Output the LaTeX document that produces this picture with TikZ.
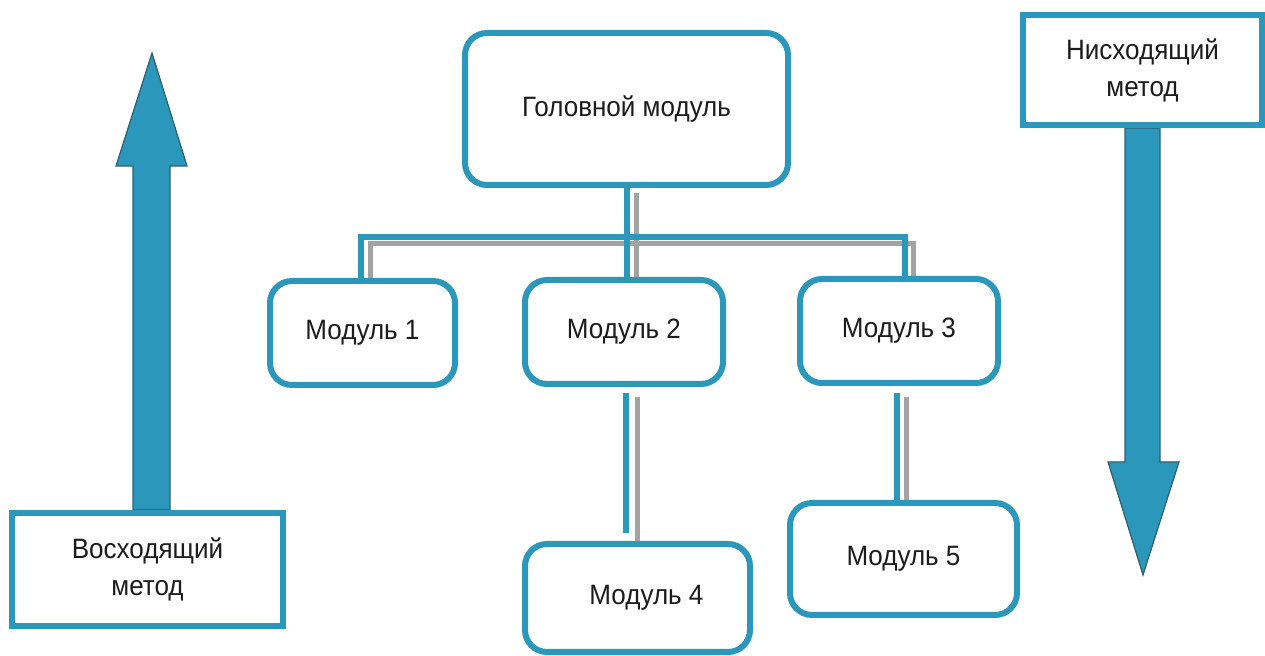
\documentclass[tikz,border=0pt]{standalone}
\usepackage{fontspec}
\setmainfont{Liberation Sans}
\newfontfamily\labelfont[FakeStretch=0.93]{Liberation Sans}
\definecolor{teal}{HTML}{2B97BA}
\definecolor{arrowedge}{HTML}{2F5F6E}
\definecolor{shade}{HTML}{A3A3A3}
\definecolor{ink}{HTML}{1C1C1C}
\tikzset{
  modbox/.style={draw=teal, line width=3pt, fill=white, rounded corners=11pt,
    inner sep=0pt, text=ink, font=\labelfont\fontsize{14}{18.5}\selectfont, align=center},
  methodbox/.style={draw=teal, line width=3pt, fill=white, inner sep=0pt,
    text=ink, font=\labelfont\fontsize{14}{18.5}\selectfont, align=center},
  bluelink/.style={draw=teal, line width=3pt},
  greylink/.style={draw=shade, line width=2.5pt},
  bigarrow/.style={fill=teal, draw=arrowedge, line width=0.6pt, line join=miter}
}
\begin{document}
\begin{tikzpicture}[x=0.5pt,y=-0.5pt]
\useasboundingbox (0,0) rectangle (1265,656);

% module hierarchy
\node[modbox, minimum width=161.5pt, minimum height=76pt] (head) at (626.5,109) {\raisebox{-1.5pt}{Головной модуль}};
\node[modbox, minimum width=92.5pt, minimum height=52pt] (m1) at (362.5,333) {\raisebox{-1.5pt}{Модуль 1}};
\node[modbox, minimum width=99pt, minimum height=52pt] (m2) at (624,332) {\raisebox{-1pt}{Модуль 2}};
\node[modbox, minimum width=99pt, minimum height=52pt] (m3) at (899,331) {\raisebox{-1.5pt}{Модуль 3}};
\node[modbox, minimum width=112.5pt, minimum height=54pt] (m4) at (637.5,598) {\hspace*{9pt}\raisebox{-3pt}{Модуль 4}};
\node[modbox, minimum width=113.5pt, minimum height=56pt] (m5) at (903.5,559) {\raisebox{-2pt}{Модуль 5}};

% method labels
\node[methodbox, minimum width=119.5pt, minimum height=55pt] (down) at (1142.5,70) {Нисходящий\\метод};
\node[methodbox, minimum width=135.5pt, minimum height=56.5pt] (up) at (147.5,569.5) {Восходящий\\метод};

% bus and drop points
\coordinate (busL) at (361,237);
\coordinate (busR) at (905,237);
\coordinate (gbusL) at (370,244);
\coordinate (gbusR) at (913,244);
\coordinate (gHead) at (636,193);
\coordinate (bM4a) at (626,393);
\coordinate (bM4b) at (626,533);
\coordinate (gM4) at (637,397);
\coordinate (bM5) at (897,393);
\coordinate (gM5) at (906,397);

% grey offset strokes
\draw[greylink] (gbusL |- m1.north) -- (gbusL) -- (gbusR) -- (gbusR |- m3.north);
\draw[greylink] (gHead) -- (gHead |- m2.north);
\draw[greylink] (gM4) -- (gM4 |- m4.north);
\draw[greylink] (gM5) -- (gM5 |- m5.north);

% blue connectors
\draw[bluelink] (busL |- m1.north) -- (busL) -- (busR) -- (busR |- m3.north);
\draw[bluelink] (head.south) -- (head.south |- m2.north);
\draw[bluelink] (bM4a) -- (bM4b);
\draw[bluelink] (bM5) -- (bM5 |- m5.north);

% bottom-up arrow resting on its label
\draw[bigarrow] (133,510) -- (133,166) -- (116,166) -- (152,53) -- (187,166)
  -- (170,166) -- (170,510) -- cycle;
% top-down arrow hanging from its label
\draw[bigarrow] (1125,128) -- (1125,462) -- (1108,462) -- (1143,575) -- (1179,462)
  -- (1160,462) -- (1160,128) -- cycle;

% redraw label frames over the arrow ends
\node[methodbox, minimum width=119.5pt, minimum height=55pt] at (down) {Нисходящий\\метод};
\node[methodbox, minimum width=135.5pt, minimum height=56.5pt] at (up) {Восходящий\\метод};
\end{tikzpicture}
\end{document}
